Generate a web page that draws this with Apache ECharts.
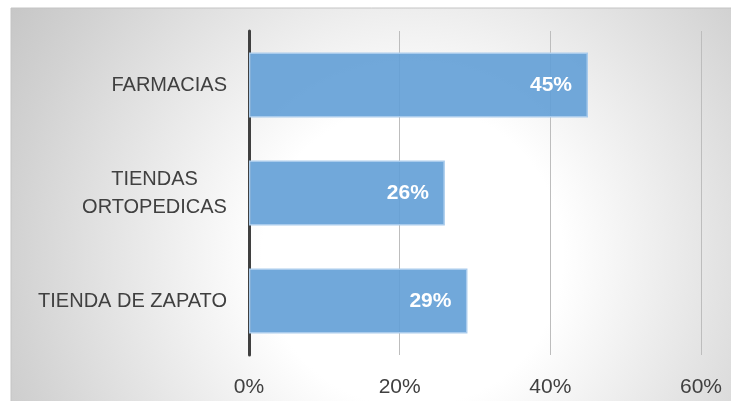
<!DOCTYPE html>
<html>
<head>
<meta charset="utf-8">
<style>
  html, body { margin: 0; padding: 0; background: #ffffff; }
  #chart { width: 731px; height: 401px; }
</style>
<script src="https://cdn.jsdelivr.net/npm/echarts@6/dist/echarts.min.js"></script>
</head>
<body>
<div id="chart"></div>
<script>
// data
const categories = ['TIENDA DE ZAPATO', 'TIENDAS\nORTOPEDICAS', 'FARMACIAS'];
const values = [29, 26, 45];
const tickValues = [0, 20, 40, 60];

const textFont = '"Liberation Sans", sans-serif';
const catSize = 20;

// width of a label line, so the two line label can be centred on itself
function lineWidth(str) {
  const ctx = document.createElement('canvas').getContext('2d');
  ctx.font = catSize + 'px ' + textFont;
  return Math.ceil(ctx.measureText(str).width);
}

const myChart = echarts.init(document.getElementById('chart'));
myChart.setOption({
  animation: false,
  graphic: [
    {
      type: 'rect',
      z: -10,
      silent: true,
      shape: { x: 11, y: 8, width: 730, height: 400 },
      style: {
        stroke: '#c4c4c4',
        lineWidth: 1,
        fill: {
          type: 'radial',
          x: 0.55,
          y: 0.62,
          r: 1.25,
          colorStops: [
            { offset: 0, color: '#ffffff' },
            { offset: 0.3, color: '#ffffff' },
            { offset: 0.8, color: '#d2d2d2' },
            { offset: 0.95, color: '#c6c6c6' },
            { offset: 1, color: '#c4c4c4' }
          ]
        }
      }
    }
  ],
  grid: {
    left: 249,
    right: 30,
    top: 31,
    bottom: 46,
    containLabel: false
  },
  xAxis: {
    type: 'value',
    min: 0,
    max: 60,
    interval: 20,
    axisLine: { show: false },
    axisTick: { show: false },
    splitLine: {
      lineStyle: { color: '#bdbdbd', width: 1 }
    },
    axisLabel: {
      color: '#404040',
      fontFamily: textFont,
      fontSize: 21,
      margin: 22,
      formatter: (v) => (tickValues.indexOf(v) >= 0 ? v + '%' : '')
    }
  },
  yAxis: {
    type: 'category',
    data: categories,
    axisLine: {
      show: true,
      lineStyle: { color: '#404040', width: 3 }
    },
    axisTick: { show: false },
    axisLabel: {
      color: '#404040',
      fontFamily: textFont,
      fontSize: catSize,
      lineHeight: 28,
      margin: 22,
      formatter: (v) => {
        const lines = v.split('\n');
        if (lines.length === 1) return v;
        return lines.map((l) => '{c|' + l + '}').join('\n');
      },
      rich: {
        c: {
          color: '#404040',
          fontFamily: textFont,
          fontSize: catSize,
          lineHeight: 28,
          width: lineWidth('ORTOPEDICAS'),
          align: 'center'
        }
      }
    }
  },
  series: [
    {
      type: 'bar',
      data: values,
      barWidth: '60%',
      itemStyle: {
        color: 'rgba(98, 158, 214, 0.9)',
        borderColor: '#a9cbec',
        borderWidth: 1.5
      },
      label: {
        show: true,
        position: 'insideRight',
        distance: 16,
        color: '#ffffff',
        fontWeight: 'bold',
        fontFamily: textFont,
        fontSize: 21,
        formatter: (p) => p.value + '%'
      }
    }
  ]
});
window.onresize = () => {
  myChart.resize();
};
</script>
</body>
</html>
